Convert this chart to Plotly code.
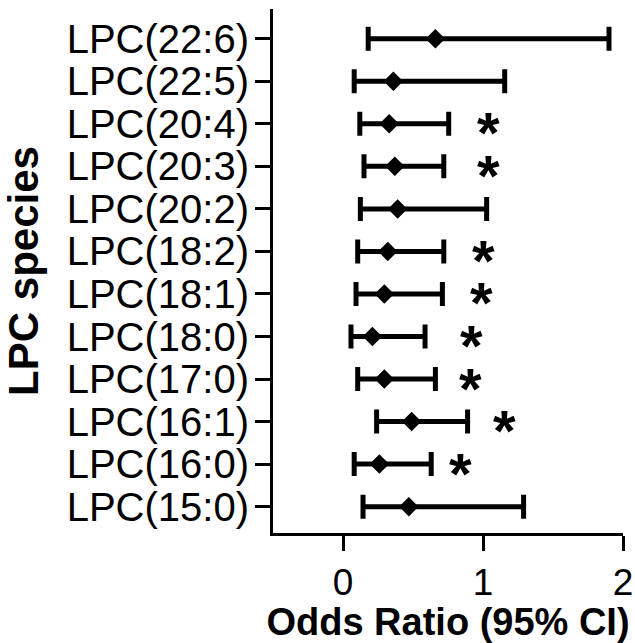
import plotly.graph_objects as go

# Data (top to bottom as displayed)
species = ["LPC(22:6)", "LPC(22:5)", "LPC(20:4)", "LPC(20:3)", "LPC(20:2)", "LPC(18:2)",
           "LPC(18:1)", "LPC(18:0)", "LPC(17:0)", "LPC(16:1)", "LPC(16:0)", "LPC(15:0)"]
odds_ratio = [0.66, 0.36, 0.33, 0.37, 0.39, 0.32, 0.295, 0.21, 0.295, 0.49, 0.26, 0.47]
ci_lower = [0.18, 0.08, 0.12, 0.15, 0.124, 0.105, 0.093, 0.057, 0.105, 0.24, 0.08, 0.143]
ci_upper = [1.90, 1.155, 0.755, 0.72, 1.026, 0.72, 0.71, 0.586, 0.66, 0.89, 0.63, 1.29]
significant = [False, False, True, True, False, True, True, True, True, True, True, False]
star_x = [None, None, 1.04, 1.04, None, 1.0, 0.99, 0.92, 0.914, 1.15, 0.84, None]
x_ticks = [0, 1, 2]

FONT = "Liberation Sans, Arial, sans-serif"

err_plus = [u - m for u, m in zip(ci_upper, odds_ratio)]
err_minus = [m - l for m, l in zip(odds_ratio, ci_lower)]

fig = go.Figure()
fig.add_trace(go.Scatter(
    x=odds_ratio, y=species, mode="markers",
    marker=dict(symbol="diamond", size=15, color="black"),
    error_x=dict(type="data", symmetric=False, array=err_plus, arrayminus=err_minus,
                 color="black", thickness=5, width=12),
    showlegend=False,
))

sx = [x for x, s in zip(star_x, significant) if s]
sy = [y for y, s in zip(species, significant) if s]
for x, y in zip(sx, sy):
    fig.add_annotation(x=x, y=y, text="<b>*</b>", showarrow=False,
                       font=dict(family=FONT, size=58, color="black"),
                       yshift=-9, xanchor="center", yanchor="middle")

fig.update_layout(
    width=635, height=643,
    margin=dict(l=273, r=12, t=9, b=110),
    paper_bgcolor="white", plot_bgcolor="white",
    font=dict(family=FONT, color="black"),
    xaxis=dict(
        range=[-0.5, 2], tickvals=x_ticks, ticktext=[str(t) for t in x_ticks],
        showline=True, linecolor="black", linewidth=3,
        ticks="outside", ticklen=15, tickwidth=3, tickcolor="black",
        showgrid=False, zeroline=False, automargin=False,
        tickfont=dict(size=37, family=FONT),
        title=dict(text="<b>Odds Ratio (95% CI)</b>", font=dict(size=38, family=FONT), standoff=6),
    ),
    yaxis=dict(
        type="category", categoryorder="array", categoryarray=species[::-1],
        tickmode="array", tickvals=species, ticktext=species,
        range=[-0.62, 11.7],
        showline=True, linecolor="black", linewidth=3,
        ticks="outside", ticklen=15, tickwidth=3, tickcolor="black",
        showgrid=False, zeroline=False, automargin=False,
        tickfont=dict(size=40, family=FONT),
        ticklabelstandoff=-2,
        title=dict(text="<b>LPC species</b>", font=dict(size=42, family=FONT), standoff=21),
    ),
)

fig.write_html("out.html", config={"displayModeBar": False},
               post_script="document.body.style.margin='0';document.body.style.overflow='hidden';")
